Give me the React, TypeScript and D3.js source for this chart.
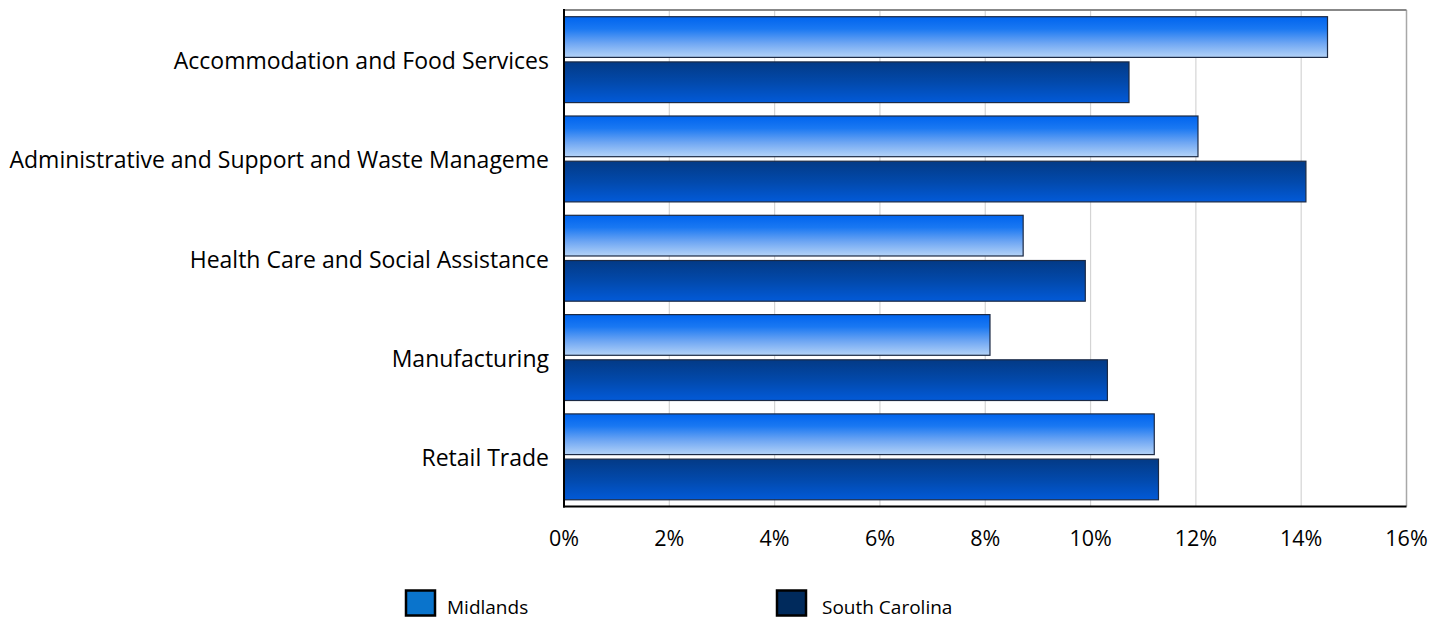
import React, { useEffect } from "react";
import * as d3 from "d3";

const categories = [
  "Accommodation and Food Services",
  "Administrative and Support and Waste Manageme",
  "Health Care and Social Assistance",
  "Manufacturing",
  "Retail Trade",
];
const seriesNames = ["Midlands", "South Carolina"];
const midlands = [14.5, 12.04, 8.72, 8.09, 11.21];
const southCarolina = [10.73, 14.09, 9.9, 10.32, 11.29];
const xTicks = [0, 2, 4, 6, 8, 10, 12, 14, 16];

const W = 1443;
const H = 620;
const left = 564;
const right = 1406.5;
const top = 10;
const bottom = 506.5;
const FONT = "'Open Sans', Lato, sans-serif";

export default function App() {
  useEffect(() => {
    document.body.style.margin = "0";
  }, []);

  const x = d3.scaleLinear().domain([0, 16]).range([left, right]);
  const y0 = d3.scaleBand<string>().domain(categories).range([top, bottom]).paddingInner(0.135).paddingOuter(0.0675);
  const y1 = d3.scaleBand<string>().domain(seriesNames).range([0, y0.bandwidth()]).paddingInner(0.1);
  const values = [midlands, southCarolina];
  const fills = ["url(#gradMid)", "url(#gradSC)"];

  return (
    <svg width={W} height={H} style={{ display: "block", background: "#fff" }}>
      <defs>
        <linearGradient id="gradMid" x1="0" y1="0" x2="0" y2="1">
          <stop offset="0" stopColor="#0064ee" />
          <stop offset="0.3" stopColor="#1a78f2" />
          <stop offset="0.65" stopColor="#6ea6f3" />
          <stop offset="1" stopColor="#b4d3f7" />
        </linearGradient>
        <linearGradient id="gradSC" x1="0" y1="0" x2="0" y2="1">
          <stop offset="0" stopColor="#033a86" />
          <stop offset="0.5" stopColor="#0249ab" />
          <stop offset="1" stopColor="#025ad8" />
        </linearGradient>
      </defs>
      {/* gridlines */}
      {xTicks.map((t) => (
        <line key={"g" + t} x1={x(t)} x2={x(t)} y1={top} y2={bottom} stroke={t === 16 ? "#a8a8a8" : "#d4d4d4"} strokeWidth={t === 16 ? 1.5 : 1.2} />
      ))}
      <line x1={left} x2={right} y1={top} y2={top} stroke="#888" strokeWidth={2} />
      {/* bars */}
      {categories.map((c, i) =>
        seriesNames.map((s, j) => {
          const yy = (y0(c) as number) + (y1(s) as number);
          return (
            <rect
              key={c + s}
              x={x(0)}
              y={yy}
              width={x(values[j][i]) - x(0)}
              height={y1.bandwidth()}
              fill={fills[j]}
              stroke="#1c2a44"
              strokeWidth={1.2}
            />
          );
        })
      )}
      {/* axes */}
      <line x1={left} x2={left} y1={top - 1} y2={bottom + 1} stroke="#000" strokeWidth={2} />
      <line x1={left - 1} x2={right} y1={bottom} y2={bottom} stroke="#000" strokeWidth={2} />
      {/* category labels */}
      {categories.map((c) => (
        <text
          key={"l" + c}
          x={549}
          y={(y0(c) as number) + y0.bandwidth() / 2}
          dy="0.41em"
          textAnchor="end"
          fontFamily={FONT}
          fontSize={23}
          fill="#000"
        >
          {c}
        </text>
      ))}
      {/* x tick labels */}
      {xTicks.map((t) => (
        <text key={"t" + t} x={x(t)} y={546} textAnchor="middle" fontFamily={FONT} fontSize={21.5} fill="#000">
          {t + "%"}
        </text>
      ))}
      {/* legend */}
      <rect x={406} y={590.5} width={29} height={25} fill="#0a74cc" stroke="#000" strokeWidth={2.5} />
      <text x={447} y={614} fontFamily={FONT} fontSize={19} fill="#000">{seriesNames[0]}</text>
      <rect x={777} y={590.5} width={29} height={25} fill="#002a5c" stroke="#000" strokeWidth={2.5} />
      <text x={822} y={614} fontFamily={FONT} fontSize={19} fill="#000">{seriesNames[1]}</text>
    </svg>
  );
}
